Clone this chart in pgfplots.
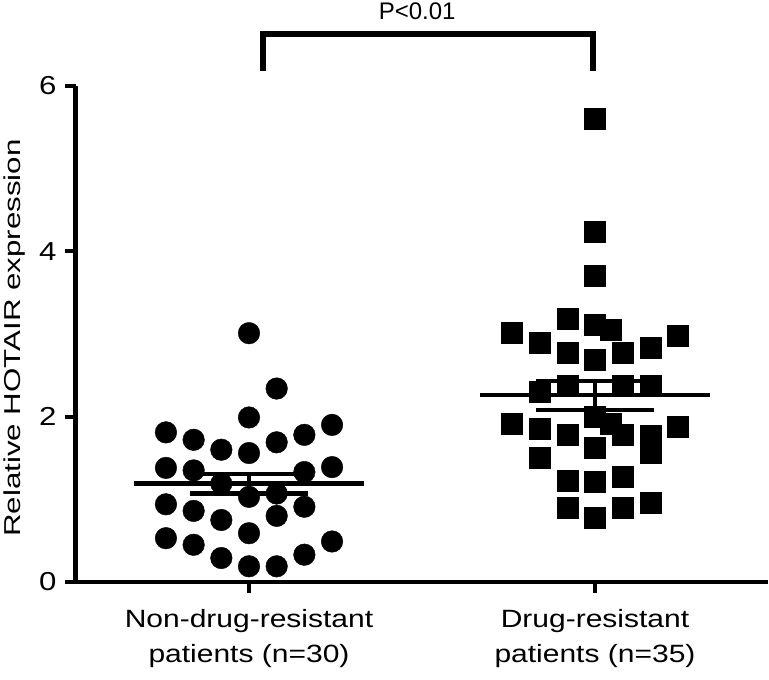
\documentclass[border=0pt]{standalone}
\usepackage{fontspec}
\setmainfont{Liberation Sans}[FakeStretch=1.2]
\newfontfamily\pfont{Liberation Sans}
\newfontfamily\yfont{Liberation Sans}[FakeStretch=1.36]
\usepackage{pgfplots}
\pgfplotsset{compat=1.18}
\begin{document}
\begin{tikzpicture}
\useasboundingbox (-76pt,-98pt) rectangle (693pt,582pt);
\begin{axis}[
 at={(0,0)}, anchor=south west,
 width=692pt, height=496pt, scale only axis,
 xmin=-0.5, xmax=1.5, ymin=0, ymax=6,
 axis lines=left, axis line style={-},
 x axis line style={line width=4pt},
 y axis line style={line width=5pt},
 xtick={0,1}, ytick={0,2,4,6},
 xticklabels={{Non-drug-resistant\\patients (n=30)},{Drug-resistant\\patients (n=35)}},
 xticklabel style={align=center, font=\fontsize{25}{35}\selectfont, yshift=-13pt},
 yticklabel style={font=\fontsize{26}{30}\selectfont, xshift=-5pt},
 /pgf/number format/assume math mode=true,
 tick align=outside, major tick length=11pt,
 major tick style={black, line width=4pt},
 clip=false,
]
% group 1: non-drug-resistant
\addplot[only marks, mark=*, mark size=10.8pt, mark options={fill=black, draw=none}] coordinates {
(-0.24,1.81) (-0.24,1.38) (-0.24,0.94) (-0.24,0.53)
(-0.16,1.72) (-0.16,1.35) (-0.16,0.86) (-0.16,0.45)
(-0.08,1.60) (-0.08,1.19) (-0.08,0.75) (-0.08,0.29)
(0,3.01) (0,1.99) (0,1.56) (0,1.03) (0,0.59) (0,0.19)
(0.08,2.34) (0.08,1.69) (0.08,1.07) (0.08,0.80) (0.08,0.19)
(0.16,1.78) (0.16,1.33) (0.16,0.91) (0.16,0.33)
(0.24,1.90) (0.24,1.39) (0.24,0.49)
};
% group 2: drug-resistant
\addplot[only marks, mark=square*, mark size=10.5pt, mark options={fill=black, draw=none}] coordinates {
(1.0,5.60) (1.0,4.24) (1.0,3.70)
(0.76,3.01) (0.84,2.89) (0.92,3.19) (0.92,2.77) (1.0,3.11) (1.044,3.05) (1.0,2.69) (1.08,2.77) (1.16,2.83) (1.24,2.98)
(0.84,2.30) (0.92,2.38) (1.08,2.38) (1.16,2.37)
(0.76,1.92) (0.84,1.86) (0.84,1.50) (0.92,1.78) (1.0,1.62) (1.0,2.00) (1.044,1.92) (1.08,1.78) (1.16,1.77) (1.16,1.56) (1.24,1.88)
(0.92,1.23) (1.0,1.21) (1.08,1.27) (0.92,0.90) (1.0,0.78) (1.08,0.90) (1.16,0.96)
};
% mean and SEM, white casing
\addplot[white, line width=9pt] coordinates {(-0.333,1.19) (0.333,1.19)};
\addplot[white, line width=9pt] coordinates {(-0.17,1.31) (0.17,1.31)};
\addplot[white, line width=9pt] coordinates {(-0.17,1.07) (0.17,1.07)};
\addplot[white, line width=9pt] coordinates {(0.667,2.26) (1.333,2.26)};
\addplot[white, line width=9pt] coordinates {(0.83,2.43) (1.17,2.43)};
\addplot[white, line width=9pt] coordinates {(0.83,2.08) (1.17,2.08)};
% black lines
\addplot[black, line width=4.3pt] coordinates {(-0.333,1.19) (0.333,1.19)};
\addplot[black, line width=4.3pt] coordinates {(-0.17,1.31) (0.17,1.31)};
\addplot[black, line width=4.3pt] coordinates {(-0.17,1.07) (0.17,1.07)};
\addplot[black, line width=4pt] coordinates {(0,1.07) (0,1.31)};
\addplot[black, line width=4.3pt] coordinates {(0.667,2.26) (1.333,2.26)};
\addplot[black, line width=4.3pt] coordinates {(0.83,2.43) (1.17,2.43)};
\addplot[black, line width=4.3pt] coordinates {(0.83,2.08) (1.17,2.08)};
\addplot[black, line width=4pt] coordinates {(1,2.08) (1,2.43)};
% significance bracket
\addplot[black, line width=6pt] coordinates {(0.0405,6.18) (0.0405,6.63) (0.994,6.63) (0.994,6.18)};
\node[anchor=base, font=\pfont\fontsize{24}{28}\selectfont] at (axis cs:0.486,6.80) {P<0.01};
\node[rotate=90, anchor=base, font=\yfont\fontsize{23}{27}\selectfont] at (axis cs:-0.659,2.95) {Relative HOTAIR expression};
\end{axis}
\end{tikzpicture}
\end{document}
